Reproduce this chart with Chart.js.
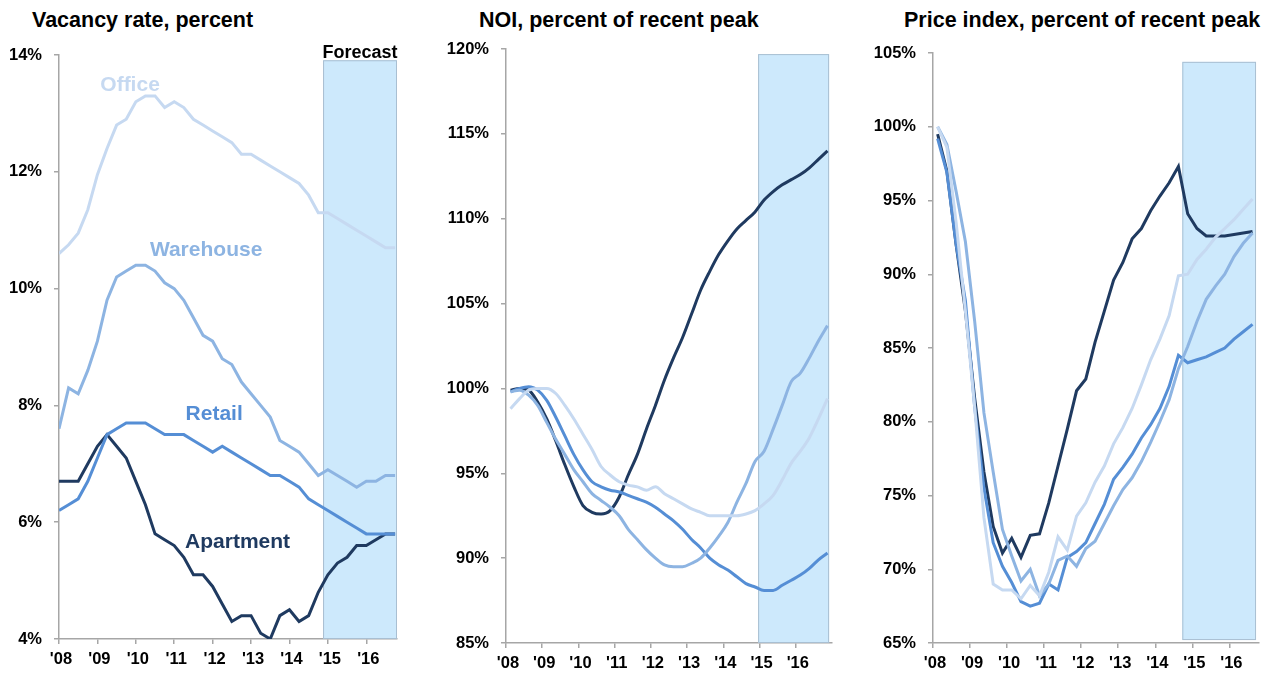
<!DOCTYPE html>
<html lang="en">
<head>
<meta charset="UTF-8" />
<title>Vacancy, NOI and price index</title>
<script src="https://cdn.jsdelivr.net/npm/chart.js"></script>
<style>
  body {margin:0;background:#fff;width:1272px;height:673px;overflow:hidden;position:relative;font-family:"Liberation Sans",Arial,sans-serif;}
  .title {position:absolute;top:9px;font-size:21.5px;font-weight:bold;line-height:22px;color:#000;white-space:nowrap;}
  .panel {position:absolute;top:0;height:673px;}
</style>
</head>
<body>
  <div class="title" style="left:32px;">Vacancy rate, percent</div>
  <div class="title" style="left:479px;">NOI, percent of recent peak</div>
  <div class="title" style="left:904px;">Price index, percent of recent peak</div>
  <div class="panel" style="left:0;width:400px;"><canvas id="vacancy"></canvas></div>
  <div class="panel" style="left:430px;width:405px;"><canvas id="noi"></canvas></div>
  <div class="panel" style="left:860px;width:402px;"><canvas id="price"></canvas></div>
<script>
// ---- data ----
const quarters = ['2008Q1','2008Q2','2008Q3','2008Q4','2009Q1','2009Q2','2009Q3','2009Q4',
  '2010Q1','2010Q2','2010Q3','2010Q4','2011Q1','2011Q2','2011Q3','2011Q4',
  '2012Q1','2012Q2','2012Q3','2012Q4','2013Q1','2013Q2','2013Q3','2013Q4',
  '2014Q1','2014Q2','2014Q3','2014Q4','2015Q1','2015Q2','2015Q3','2015Q4',
  '2016Q1','2016Q2','2016Q3','2016Q4'];
const priceQuarters = quarters.slice(0, 35);
const years = [2008,2009,2010,2011,2012,2013,2014,2015,2016];
const seriesNames = ['Office','Warehouse','Retail','Apartment'];

const vacancyOffice    = [10.6,10.75,10.95,11.35,11.95,12.4,12.8,12.9,13.2,13.3,13.3,13.1,13.2,13.1,12.9,12.8,12.7,12.6,12.5,12.3,12.3,12.2,12.1,12.0,11.9,11.8,11.6,11.3,11.3,11.2,11.1,11.0,10.9,10.8,10.7,10.7];
const vacancyWarehouse = [7.6,8.3,8.2,8.6,9.1,9.8,10.2,10.3,10.4,10.4,10.3,10.1,10.0,9.8,9.5,9.2,9.1,8.8,8.7,8.4,8.2,8.0,7.8,7.4,7.3,7.2,7.0,6.8,6.9,6.8,6.7,6.6,6.7,6.7,6.8,6.8];
const vacancyRetail    = [6.2,6.3,6.4,6.7,7.1,7.5,7.6,7.7,7.7,7.7,7.6,7.5,7.5,7.5,7.4,7.3,7.2,7.3,7.2,7.1,7.0,6.9,6.8,6.8,6.7,6.6,6.4,6.3,6.2,6.1,6.0,5.9,5.8,5.8,5.8,5.8];
const vacancyApartment = [6.7,6.7,6.7,7.0,7.3,7.5,7.3,7.1,6.7,6.3,5.8,5.7,5.6,5.4,5.1,5.1,4.9,4.6,4.3,4.4,4.4,4.1,4.0,4.4,4.5,4.3,4.4,4.8,5.1,5.3,5.4,5.6,5.6,5.7,5.8,5.8];

const noiOffice    = [98.8,99.4,99.9,100.0,100.0,99.7,99.0,98.2,97.3,96.4,95.4,94.9,94.5,94.3,94.2,94.0,94.2,93.8,93.5,93.2,92.9,92.7,92.5,92.5,92.5,92.5,92.6,92.8,93.2,93.7,94.6,95.6,96.3,97.1,98.2,99.4];
const noiWarehouse = [99.8,99.9,99.6,99.0,98.0,97.0,96.1,95.2,94.5,93.8,93.4,93.0,92.5,91.7,91.1,90.5,90.0,89.6,89.5,89.5,89.7,90.0,90.6,91.3,92.1,93.3,94.4,95.7,96.3,97.6,99.0,100.4,100.9,101.8,102.8,103.7];
const noiRetail    = [99.8,100.0,100.1,99.9,99.3,98.3,97.2,96.1,95.2,94.5,94.2,94.0,93.9,93.7,93.5,93.3,93.0,92.6,92.2,91.7,91.1,90.6,90.0,89.6,89.3,88.9,88.5,88.3,88.1,88.1,88.4,88.7,89.0,89.4,89.9,90.3];
const noiApartment = [99.9,100.0,99.9,99.2,98.2,96.9,95.5,94.2,93.1,92.7,92.6,92.8,93.6,94.9,96.1,97.6,99.0,100.5,101.8,103.0,104.4,105.8,106.9,107.9,108.7,109.4,109.9,110.4,111.1,111.6,112.0,112.3,112.6,113.0,113.5,114.0];

const priceOffice    = [100.0,98.6,93.5,87.5,81.0,73.5,69.0,68.6,68.6,68.0,68.9,68.2,69.8,72.2,71.3,73.6,74.5,75.9,77.0,78.5,79.6,80.9,82.5,84.2,85.6,87.2,89.9,90.0,91.0,91.7,92.5,93.1,93.7,94.4,95.1];
const priceWarehouse = [100.0,98.8,95.6,92.2,86.8,80.6,76.6,72.7,70.9,69.2,70.0,68.2,69.0,70.6,70.9,70.2,71.4,71.9,73.1,74.3,75.4,76.2,77.3,78.6,80.0,81.5,83.6,85.1,86.8,88.3,89.2,90.0,91.2,92.1,92.8];
const priceRetail    = [99.2,96.9,92.0,88.2,81.0,75.5,71.8,70.2,69.1,67.8,67.5,67.7,69.0,68.6,70.8,71.2,71.8,73.1,74.4,76.1,76.9,77.8,78.9,79.8,80.9,82.4,84.5,84.0,84.2,84.4,84.7,85.0,85.6,86.1,86.6];
const priceApartment = [99.5,97.0,92.0,87.5,81.6,76.6,72.9,71.1,72.1,70.8,72.3,72.4,74.5,77.0,79.5,82.1,82.9,85.4,87.5,89.6,90.8,92.4,93.1,94.3,95.3,96.2,97.3,94.1,93.1,92.6,92.6,92.6,92.7,92.8,92.9];

// ---- styling ----
const FONT = '"Liberation Sans", Arial, sans-serif';
const colors = ['#c6d9f1', '#8db4e2', '#558ed5', '#1f3a60'];
const axisGray = '#a6a6a6';

// quarter label -> decimal year
const qToYear = q => +q.slice(0, 4) + (+q.slice(5) - 1) / 4;

function makeDatasets(labels, series, shift, smooth) {
  return series.map((vals, i) => ({
    label: seriesNames[i],
    data: labels.map((q, j) => ({x: qToYear(q) + shift, y: vals[j]})),
    borderColor: colors[i],
    borderWidth: 3,
    pointRadius: 0,
    fill: false,
    tension: 0,
    cubicInterpolationMode: smooth ? 'monotone' : 'default'
  }));
}

const forecastPlugin = {
  id: 'forecast',
  beforeDatasetsDraw(chart, args, opts) {
    const {ctx, scales: {x, y}} = chart;
    const l = x.getPixelForValue(opts.from), r = x.getPixelForValue(opts.to);
    const t = y.getPixelForValue(opts.top), b = y.getPixelForValue(opts.bottom);
    ctx.save();
    ctx.fillStyle = '#cde9fc';
    ctx.fillRect(l, t, r - l, b - t);
    ctx.strokeStyle = '#a9bfd2';
    ctx.lineWidth = 1;
    ctx.strokeRect(l + 0.5, t + 0.5, r - l - 1, b - t - 1);
    if (opts.text) {
      ctx.fillStyle = '#000';
      ctx.font = 'bold 18px ' + FONT;
      ctx.textAlign = 'center';
      ctx.textBaseline = 'alphabetic';
      ctx.fillText(opts.text, (l + r) / 2, t - 2);
    }
    ctx.restore();
  }
};

const namePlugin = {
  id: 'names',
  afterDatasetsDraw(chart, args, opts) {
    if (!opts.at) return;
    const {ctx, scales: {x, y}} = chart;
    ctx.save();
    ctx.font = 'bold 21px ' + FONT;
    ctx.textAlign = 'center';
    ctx.textBaseline = 'middle';
    opts.at.forEach((p, i) => {
      ctx.fillStyle = colors[i];
      ctx.fillText(seriesNames[i], x.getPixelForValue(p[0]), y.getPixelForValue(p[1]));
    });
    ctx.restore();
  }
};

function makeChart(id, c) {
  const tickFont = {family: FONT, size: 16.5, weight: 'bold'};
  new Chart(document.getElementById(id), {
    type: 'line',
    data: {datasets: c.datasets},
    plugins: [forecastPlugin, namePlugin],
    options: {
      responsive: true,
      maintainAspectRatio: false,
      animation: false,
      events: [],
      layout: {padding: {left: 0, right: 3, top: c.top, bottom: 0}},
      plugins: {
        legend: {display: false},
        tooltip: {enabled: false},
        forecast: c.forecast,
        names: {at: c.names}
      },
      scales: {
        x: {
          type: 'linear',
          min: years[0],
          max: c.xMax,
          afterFit: s => { s.height = c.xHeight; },
          afterBuildTicks: s => { s.ticks = years.map(v => ({value: v})); },
          ticks: {
            autoSkip: false, maxRotation: 0, padding: 6, labelOffset: 2, color: '#000', font: tickFont,
            callback: v => "'" + String(v).slice(2)
          },
          grid: {drawOnChartArea: false, drawTicks: true, tickLength: 5, color: axisGray, lineWidth: 1.5},
          border: {display: true, color: axisGray, width: 1.5}
        },
        y: {
          min: c.yMin, max: c.yMax,
          afterFit: s => { s.width = c.yWidth; },
          ticks: {stepSize: c.yStep, padding: 12, color: '#000', font: tickFont, callback: v => v + '%'},
          grid: {drawOnChartArea: false, drawTicks: true, tickLength: 5, color: axisGray, lineWidth: 1.5},
          border: {display: true, color: axisGray, width: 1.5}
        }
      }
    }
  });
}

makeChart('vacancy', {
  datasets: makeDatasets(quarters, [vacancyOffice, vacancyWarehouse, vacancyRetail, vacancyApartment], 0, false),
  xMax: 2016.8, yMin: 4, yMax: 14, yStep: 2, yWidth: 59, top: 55, xHeight: 34,
  forecast: {from: 2014.875, to: 2016.8, top: 13.91, bottom: 4, text: 'Forecast'},
  names: [[2009.85, 13.49], [2011.83, 10.65], [2012.04, 7.85], [2012.65, 5.66]]
});

makeChart('noi', {
  datasets: makeDatasets(quarters, [noiOffice, noiWarehouse, noiRetail, noiApartment], 0.125, true),
  xMax: 2017.0, yMin: 85, yMax: 120, yStep: 5, yWidth: 76, top: 49, xHeight: 30,
  forecast: {from: 2014.96, to: 2016.92, top: 119.7, bottom: 85}
});

makeChart('price', {
  datasets: makeDatasets(priceQuarters, [priceOffice, priceWarehouse, priceRetail, priceApartment], 0.125, false),
  xMax: 2016.8, yMin: 65, yMax: 105, yStep: 5, yWidth: 73, top: 53, xHeight: 30,
  forecast: {from: 2014.73, to: 2016.72, top: 104.4, bottom: 65.2}
});
</script>
</body>
</html>
